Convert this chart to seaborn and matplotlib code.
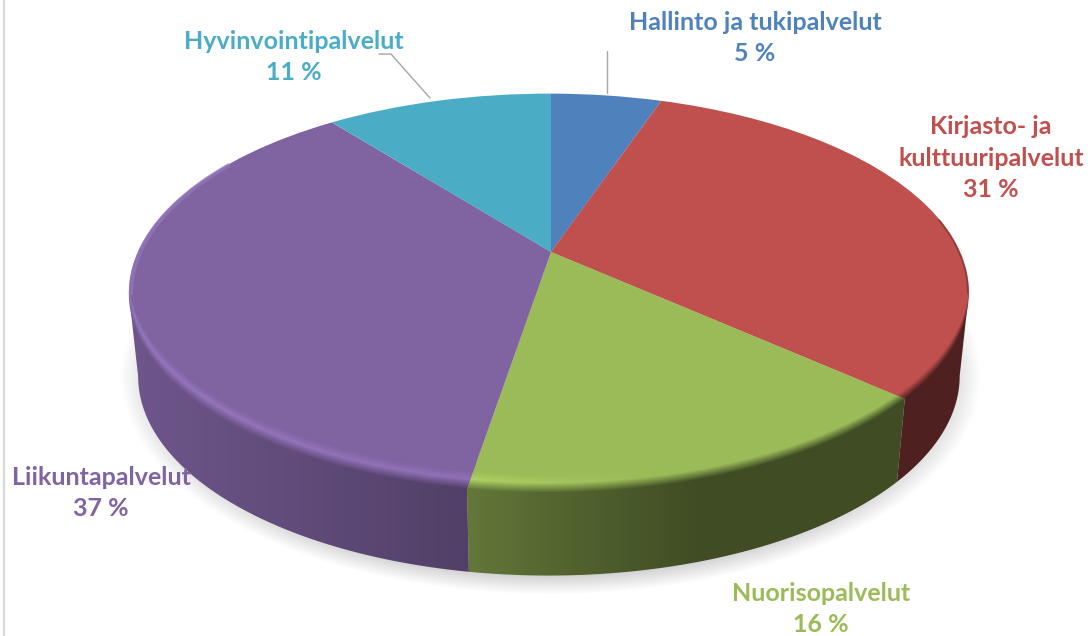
import numpy as np
import matplotlib
matplotlib.use("Agg")
import matplotlib.pyplot as plt
import seaborn as sns
from matplotlib.path import Path
from matplotlib.transforms import Transform

categories = ["Hallinto ja tukipalvelut", "Kirjasto- ja\nkulttuuripalvelut", "Nuorisopalvelut", "Liikuntapalvelut", "Hyvinvointipalvelut"]
values = [5.2, 31.4, 16.0, 36.8, 10.6]
hex_colors = ["#4f81bd", "#c0504d", "#9bbb59", "#8064a2", "#4bacc6"]
label_x = [755, 991, 821, 101, 294]
label_y = [38, 158, 609, 493, 57]

W, H = 1088, 636
CX, CY, A, B, K, J = 551, 252, 411, 191, 0.206, 0.005


def project(x, y):
    w = 1 + K * y + J * x
    return CX + A * x / w, CY - B * y / w


# tilted disc: unit circle from the pie -> pixel coordinates
class Tilt(Transform):
    input_dims = output_dims = 2

    def transform_non_affine(self, xy):
        xy = np.asarray(xy, dtype=float)
        px, py = project(xy[:, 0], xy[:, 1])
        return np.column_stack([px, py])


sns.set_theme(style="white")
plt.rcParams["font.family"] = ["Lato", "DejaVu Sans"]
palette = sns.color_palette(hex_colors)

fig = plt.figure(figsize=(W / 100, H / 100), dpi=100)
ax = fig.add_axes([0, 0, 1, 1])

wedges, _ = ax.pie(values, colors=palette, startangle=90, counterclock=False,
                   wedgeprops={"linewidth": 0, "zorder": 2})
for w in wedges:
    w.set_transform(Tilt() + ax.transData)

xx, yy = np.meshgrid(np.arange(W) + 0.5, np.arange(H) + 0.5)

# soft shadow under the disc
r = np.sqrt(((xx - 551) / 410) ** 2 + ((yy - 376) / 208) ** 2)
shadow = np.zeros((H, W, 4))
shadow[..., :3] = 0.45
shadow[..., 3] = np.clip((1.05 - r) / 0.09, 0, 1) * 0.32
ax.imshow(shadow, extent=(0, W, H, 0), aspect="auto", zorder=1, interpolation="bilinear")

# front arc of the disc, used to measure distance from the edge
limit = np.degrees(np.arcsin(K))
front_t = np.radians(np.linspace(180 + limit, 360 - limit, 600))
front_x, front_y = project(np.cos(front_t), np.sin(front_t))
d = yy - np.interp(xx, front_x, front_y)

wall_shade = np.interp(xx, [130, 300, 465, 600, 700, 1000], [0.86, 0.75, 0.64, 0.5, 0.41, 0.41])
highlight = np.interp(xx, [130, 468, 640], [0.17, 0.12, 0.0])

for w, col in zip(wedges, palette):
    col = np.array(col)
    face = col[None, None, :]
    lit = np.clip(face * (1 + highlight[..., None]), 0, 1)
    wall = face * wall_shade[..., None]
    s1 = np.clip((d + 18) / 8, 0, 1)[..., None]
    s2 = np.clip((d + 10) / 10, 0, 1)[..., None]
    rgb = (1 - s1) * face + s1 * lit
    rgb = (1 - s2) * rgb + s2 * wall

    # part of the slice's arc on the front side
    t1, t2 = w.theta1 % 360, w.theta2 % 360
    if t2 <= t1:
        t2 += 360
    lo, hi = max(t1, 180 + limit), min(t2, 360 - limit)
    if hi <= lo:
        continue
    t = np.radians(np.linspace(lo, hi, 80))
    ax_, ay_ = project(np.cos(t), np.sin(t))
    # inner edge pulled towards the centre so it follows the slice seams
    ix, iy = project(0.9 * np.cos(t), 0.9 * np.sin(t))
    top = np.column_stack([ix, iy])
    edge = np.column_stack([ax_, ay_])
    bottom = np.column_stack([CX + (ax_ - CX) * 0.978, ay_ + 83])[::-1]
    band = Path(np.vstack([top, edge[-1:], bottom, edge[:1], top[:1]]), closed=True)
    im = ax.imshow(rgb, extent=(0, W, H, 0), aspect="auto", zorder=3, interpolation="nearest")
    im.set_clip_path(band, ax.transData)

# rim shading on the two ends of the disc
t_left = np.radians(np.linspace(150, 180 + limit, 40))
lx, ly = project(0.995 * np.cos(t_left), 0.995 * np.sin(t_left))
ax.plot(lx, ly, color="#9478bb", lw=3, alpha=0.7, zorder=4, solid_capstyle="round")
t_right = np.radians(np.linspace(-limit, 10, 40))
rx, ry = project(0.998 * np.cos(t_right), 0.998 * np.sin(t_right))
ax.plot(rx, ry, color="#5a1f1d", lw=1.5, alpha=0.45, zorder=4)

ax.set_xlim(0, W)
ax.set_ylim(H, 0)
ax.set_aspect("auto")
ax.axis("off")

ax.axvline(4, color="#d9d9d9", lw=1.6, zorder=0)
ax.plot([607, 607], [51, 93], color="#a6a6a6", lw=1, zorder=4)
ax.plot([379, 391, 430], [54, 54, 98], color="#a6a6a6", lw=1, zorder=4)

for name, v, x, y, c in zip(categories, values, label_x, label_y, palette):
    ax.text(x, y, f"{name}\n{round(v)} %", color=c, fontsize=18, fontweight="bold",
            ha="center", va="center", linespacing=1.45, zorder=5)

fig.savefig("out.png", dpi=100)
